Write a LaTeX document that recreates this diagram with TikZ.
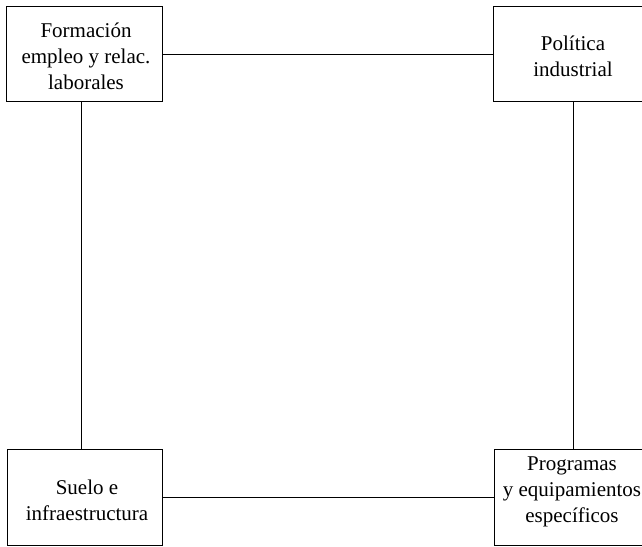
\documentclass[tikz,border=0pt]{standalone}
\usepackage{fontspec}
\setmainfont{Liberation Serif}
\newfontfamily\boxfont{Liberation Serif}
\begin{document}
\begin{tikzpicture}[x=1pt,y=1pt,
  boxstyle/.style={draw=black, line width=1pt, rectangle, inner sep=0pt},
  txt/.style={align=center, inner sep=0pt, font=\boxfont\fontsize{21}{26}\selectfont},
  conn/.style={draw=black, line width=1pt}]
\useasboundingbox (0,0) rectangle (642,546);
\clip (0,0) rectangle (642,546);
\fill[white] (0,0) rectangle (642,546);
% boxes
\node[boxstyle, minimum width=156, minimum height=95] (A) at (84,491.5) {};
\node[boxstyle, minimum width=160, minimum height=95] (B) at (573,491.5) {};
\node[boxstyle, minimum width=155, minimum height=95] (C) at (84.5,48.5) {};
\node[boxstyle, minimum width=160, minimum height=95] (D) at (574,48.5) {};
% texts
\node[txt] (tA) at (86,490) {Formación\\empleo y relac.\\laborales};
\node[txt] (tB) at (573,490) {Política\\industrial};
\node[txt] (tC) at (87,46) {Suelo e\\infraestructura};
\node[txt] (tD) at (572,54) {Programas\\y equipamientos\\específicos};
% connectors
\draw[conn] (A.east) -- (B.west);
\draw[conn] ([xshift=-3pt]A.south) -- ([xshift=-3pt]A.south |- C.north);
\draw[conn] (B.south) -- (B.south |- D.north);
\draw[conn] (C.east) -- (D.west);
\end{tikzpicture}
\end{document}
